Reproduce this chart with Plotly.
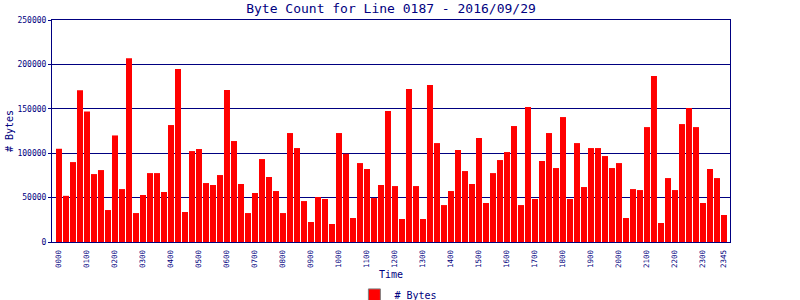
import plotly.graph_objects as go

title_text = "Byte Count for Line 0187 - 2016/09/29"
series_name = "# Bytes"

bytes_values = [
    105000, 52000, 90000, 171000, 147000, 76500, 81000, 36000,
    120000, 59600, 207000, 32600, 52900, 77600, 77600, 56300,
    131700, 194700, 33800, 102400, 104700, 66400, 64200, 75400,
    171100, 113700, 65300, 32600, 55200, 93400, 73200, 57400,
    32600, 122700, 105800, 46100, 22500, 50700, 48400, 20300,
    122700, 99400, 27000, 88900, 82200, 49500, 64200, 147400,
    63000, 25900, 172200, 63000, 25900, 176700, 111400, 41600,
    57400, 103600, 79900, 65300, 117100, 43900, 77600, 92300,
    101300, 130600, 41600, 151900, 48400, 91200, 122700, 83300,
    140700, 48400, 111400, 61900, 105800, 105800, 96800, 83300,
    88900, 27000, 59600, 58500, 129400, 186800, 21400, 72000,
    58500, 132800, 150800, 129400, 43900, 82200, 72000, 30400,
]
time_labels = ["%02d%02d" % (i // 4, (i % 4) * 15) for i in range(96)]
tick_labels = ["%02d00" % h for h in range(24)] + ["2345"]
tick_positions = [time_labels.index(t) for t in tick_labels]

NAVY = "#000080"
RED = "#FF0000"
FONT = "DejaVu Sans Mono"

x_idx = list(range(len(bytes_values)))

fig = go.Figure()
fig.add_trace(go.Bar(
    x=x_idx, y=bytes_values, name=series_name,
    marker=dict(color=RED, line=dict(width=0)),
    showlegend=False, hovertext=time_labels,
))
fig.add_trace(go.Bar(
    x=[None], y=[None], name=series_name,
    marker=dict(color=RED, line=dict(color="#808080", width=1)),
    showlegend=True,
))

fig.update_layout(
    width=800, height=300,
    margin=dict(l=52, r=70, t=20, b=58, autoexpand=False),
    paper_bgcolor="white", plot_bgcolor="white",
    bargap=1/7,
    font=dict(family=FONT, color=NAVY, size=8),
    title=dict(text=title_text, x=0.5, xref="paper", y=1 - 8/300,
               yanchor="middle", xanchor="center",
               font=dict(family=FONT, size=13, color=NAVY)),
    legend=dict(orientation="h", xref="container", yref="container",
                x=0.498, xanchor="center", y=0.017, yanchor="middle",
                font=dict(family=FONT, size=10, color=NAVY),
                itemwidth=30, bgcolor="rgba(0,0,0,0)"),
    xaxis=dict(
        range=[-1, 95.86], tickmode="array",
        tickvals=tick_positions, ticktext=tick_labels,
        tickangle=-90, showgrid=False, zeroline=False,
        showline=True, linecolor=NAVY, linewidth=1, mirror=True,
        ticks="", ticklabelstandoff=4, automargin=False,
        tickfont=dict(family=FONT, size=7.5, color=NAVY),
        title=dict(text="Time", font=dict(family=FONT, size=10, color=NAVY), standoff=15),
    ),
    yaxis=dict(
        range=[0, 250000], dtick=50000, tickformat="d",
        showgrid=True, gridcolor=NAVY, gridwidth=1, zeroline=False,
        showline=True, linecolor=NAVY, linewidth=1, mirror=True,
        ticks="outside", ticklen=3, tickcolor=NAVY, automargin=False,
        tickfont=dict(family=FONT, size=8, color=NAVY),
        title=dict(text="# Bytes", font=dict(family=FONT, size=10, color=NAVY), standoff=1),
    ),
)

fig.write_html("out.html")
